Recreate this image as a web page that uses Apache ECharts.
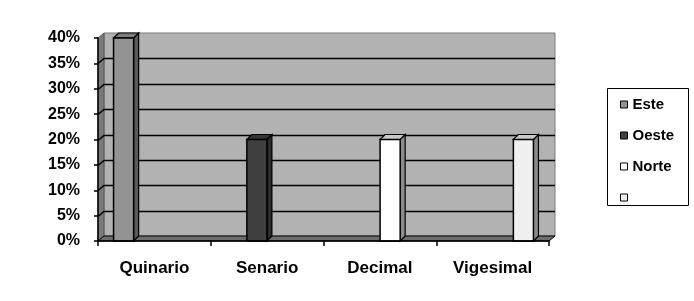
<!DOCTYPE html>
<html><head><meta charset="utf-8">
<script src="https://cdn.jsdelivr.net/npm/echarts@6/dist/echarts.min.js"></script>
<style>html,body{margin:0;padding:0;background:#fff}#c{width:694px;height:301px}</style>
</head><body><div id="c"></div>
<script>
const categories = ['Quinario', 'Senario', 'Decimal', 'Vigesimal'];
const seriesNames = ['Este', 'Oeste', 'Norte', ' '];
const este = [40, 0, 0, 0];
const oeste = [0, 20, 0, 0];
const norte = [0, 0, 20, 0];
const serie4 = [0, 0, 0, 20];
const yTicks = [0, 5, 10, 15, 20, 25, 30, 35, 40];

const FONT = '"Liberation Sans", Arial, sans-serif';
const palettes = [
  { front: '#939393', side: '#5a5a5a', top: '#7d7d7d' },
  { front: '#404040', side: '#2b2b2b', top: '#353535' },
  { front: '#ffffff', side: '#8c8c8c', top: '#c8c8c8' },
  { front: '#f0f0f0', side: '#8c8c8c', top: '#c8c8c8' }
];
const WDX = 6, WDY = -5;   // wall depth
const BDX = 5, BDY = -5;   // bar depth

function wallRender(params, api) {
  const cs = params.coordSys;
  const x = cs.x, y = cs.y, w = cs.width, h = cs.height;
  const ch = [];
  ch.push({ type: 'polygon', shape: { points: [[x + WDX, y + WDY], [x + w + WDX, y + WDY], [x + w + WDX, y + h + WDY], [x + WDX, y + h + WDY]] },
    style: { fill: '#b2b2b2', stroke: '#7a7a7a', lineWidth: 1 } });
  ch.push({ type: 'polygon', shape: { points: [[x, y], [x + WDX, y + WDY], [x + WDX, y + h + WDY], [x, y + h]] },
    style: { fill: '#7a7a7a', stroke: '#555', lineWidth: 1 } });
  ch.push({ type: 'polygon', shape: { points: [[x, y + h], [x + WDX, y + h + WDY], [x + w + WDX, y + h + WDY], [x + w, y + h]] },
    style: { fill: '#6e6e6e', stroke: '#000', lineWidth: 1 } });
  yTicks.forEach(function (t) {
    if (t === 0 || t === 40) return;
    const p = api.coord([0, t]);
    const yy = Math.round(p[1]) + 0.5;
    ch.push({ type: 'polyline', shape: { points: [[x, yy], [x + WDX, yy + WDY], [x + w + WDX, yy + WDY]] },
      style: { stroke: '#000', lineWidth: 1.5, fill: null } });
  });
  return { type: 'group', children: ch };
}

function barRender(slot, pal) {
  return function (params, api) {
    const v = api.value(1);
    if (!v) return null;
    const cat = api.value(0);
    const top = api.coord([cat, v]);
    const base = api.coord([cat, 0]);
    const bw = api.size([1, 0])[0];
    const slotW = bw * 0.182;
    const barW = bw * 0.178;
    const cx = top[0] + (slot - 1.5) * slotW;
    const l = cx - barW / 2, r = cx + barW / 2;
    const t = top[1], b = base[1];
    return { type: 'group', children: [
      { type: 'polygon', shape: { points: [[r, t], [r + BDX, t + BDY], [r + BDX, b + BDY], [r, b]] },
        style: { fill: pal.side, stroke: '#000', lineWidth: 1.2 } },
      { type: 'polygon', shape: { points: [[l, t], [l + BDX, t + BDY], [r + BDX, t + BDY], [r, t]] },
        style: { fill: pal.top, stroke: '#000', lineWidth: 1.2 } },
      { type: 'rect', shape: { x: l, y: t, width: barW, height: b - t },
        style: { fill: pal.front, stroke: '#000', lineWidth: 1.5 } }
    ] };
  };
}

const seriesData = [este, oeste, norte, serie4];
const series = [{
  type: 'custom', name: '__wall', renderItem: wallRender, data: [[0, 0]], z: 1, silent: true,
  encode: { x: 0, y: 1 }
}];
seriesData.forEach(function (arr, i) {
  series.push({
    type: 'custom', name: seriesNames[i], z: 3,
    renderItem: barRender(i, palettes[i]),
    itemStyle: { color: palettes[i].front },
    data: arr.map(function (v, k) { return [k, v]; }),
    encode: { x: 0, y: 1 }
  });
});

const chart = echarts.init(document.getElementById('c'), null, { renderer: 'canvas' });
chart.setOption({
  animation: false,
  backgroundColor: '#fff',
  grid: { left: 98, right: 145, top: 38, bottom: 60 },
  xAxis: {
    type: 'category', data: categories, z: 10,
    axisLine: { lineStyle: { color: '#000', width: 1.5 } },
    axisTick: { show: true, length: 5, lineStyle: { color: '#000', width: 1.5 } },
    axisLabel: { color: '#000', fontFamily: FONT, fontWeight: 'bold', fontSize: 17, margin: 19 },
    splitLine: { show: false }
  },
  yAxis: {
    type: 'value', min: 0, max: 40, interval: 5, z: 10,
    axisLine: { show: true, lineStyle: { color: '#000', width: 1.5 } },
    axisTick: { show: true, length: 4, lineStyle: { color: '#000', width: 1.5 } },
    axisLabel: { color: '#000', fontFamily: FONT, fontWeight: 'bold', fontSize: 16, margin: 18,
      formatter: function (v) { return v + '%'; } },
    splitLine: { show: false }
  },
  legend: {
    data: seriesNames, orient: 'vertical', left: 620, top: 97, padding: 0,
    itemWidth: 7, itemHeight: 7, itemGap: 16, icon: 'rect',
    itemStyle: { borderColor: '#000', borderWidth: 1 },
    textStyle: { color: '#000', fontFamily: FONT, fontWeight: 'bold', fontSize: 15 },
    selectedMode: false
  },
  graphic: [{
    type: 'rect', shape: { x: 607.5, y: 88.5, width: 81, height: 117 },
    style: { fill: 'none', stroke: '#000', lineWidth: 1 }
  }],
  series: series
});
</script></body></html>
